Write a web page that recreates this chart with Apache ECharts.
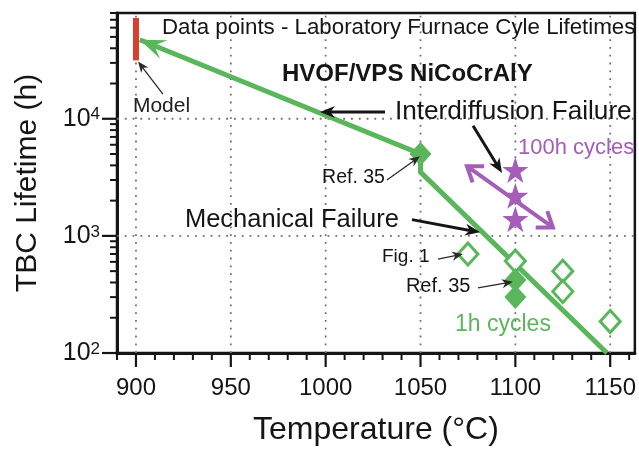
<!DOCTYPE html>
<html>
<head>
<meta charset="utf-8">
<script src="https://cdn.jsdelivr.net/npm/echarts@6.0.0/dist/echarts.min.js"></script>
<style>
  html, body { margin: 0; padding: 0; background: #fff; }
  #chart { width: 639px; height: 451px; }
</style>
</head>
<body>
<div id="chart"></div>
<script>
// axis ranges
const tempMin = 890, tempMax = 1163;
const lifeMin = 100, lifeMax = 80000;

// tick positions
const tempTicks = [900, 950, 1000, 1050, 1100, 1150];
const tempMinorTicks = [890, 910, 920, 930, 940, 960, 970, 980, 990, 1010, 1020, 1030, 1040,
  1060, 1070, 1080, 1090, 1110, 1120, 1130, 1140, 1160];
const lifeTicks = [100, 1000, 10000];
const lifeMinorTicks = [200, 300, 400, 500, 600, 700, 800, 900,
  2000, 3000, 4000, 5000, 6000, 7000, 8000, 9000,
  20000, 30000, 40000, 50000, 60000, 70000, 80000];
const lifeGrid = [1000, 10000];

// model line (green) and model range (red bar)
const modelTemp = [902, 1050, 1050, 1148.3];
const modelLife = [47300, 5000, 3500, 100];
const modelRangeTemp = [900, 900];
const modelRangeLife = [72600, 31500];

// data points
const refTemp = [1050, 1100, 1100];          // Ref. 35, filled diamonds
const refLife = [5000, 420, 300];
const furnaceTemp = [1075, 1100, 1125, 1125, 1150]; // 1h cycles, open diamonds
const furnaceLife = [700, 610, 500, 335, 186];
const cycle100Temp = [1100, 1100, 1100];     // 100h cycles, stars
const cycle100Life = [3650, 2200, 1390];

// annotation arrows: [tempFrom, lifeFrom, tempTo, lifeTo]
const failureArrows = [
  [1031.3, 11450, 997.0, 11450],
  [1077.7, 8730, 1093.0, 3436],
  [1045.5, 1377, 1081.4, 1072]
];
const pointerArrows = [
  [914.2, 16250, 901.1, 30800],
  [1032.3, 2999, 1049.7, 4775],
  [1059.2, 634, 1072.4, 699],
  [1080.3, 360, 1098.7, 405]
];
const cycleArrows = [
  [1074.5, 3937, 1119.8, 1181]
];

// annotation texts
const noteText = ['Data points - Laboratory Furnace Cyle Lifetimes', 'HVOF/VPS NiCoCrAlY', 'Model',
  'Interdiffusion Failure', '100h cycles', 'Ref. 35', 'Mechanical Failure', 'Fig. 1', 'Ref. 35', '1h cycles'];
const noteTemp = [913.7, 977, 898.4, 1036.5, 1101.4, 998.1, 925.8, 1029.7, 1042.3, 1068.2];
const noteLife = [59700, 24000, 12900, 11450, 5590, 3120, 1377, 659, 367, 176];

const GREEN = '#5ab65a', PURPLE = '#a45db8', RED = '#d93f2c', INK = '#151515';
const FONT = 'Liberation Sans, Arial, Helvetica, sans-serif';
const noteStyle = [
  { fontSize: 22.3 }, { fontSize: 24, fontWeight: 'bold' }, { fontSize: 21, fill: '#222' },
  { fontSize: 26.2 }, { fontSize: 22, fill: PURPLE }, { fontSize: 19.5 }, { fontSize: 25.5 },
  { fontSize: 19 }, { fontSize: 20 }, { fontSize: 23, fill: GREEN }
];
const starPath = 'path://M50,0 L61.8,35.4 L99,35.4 L69,57.3 L80.4,92.7 L50,70.8 L19.6,92.7 L31,57.3 L1,35.4 L38.2,35.4 Z';

const zip = (a, b) => a.map((v, i) => [v, b[i]]);

// arrow head polygon, notched
function headPoints(tip, from, len, half, notch) {
  const dx = tip[0] - from[0], dy = tip[1] - from[1];
  const d = Math.hypot(dx, dy) || 1;
  const ux = dx / d, uy = dy / d;
  const bx = tip[0] - ux * len, by = tip[1] - uy * len;
  return [
    [tip[0], tip[1]],
    [bx - uy * half, by + ux * half],
    [tip[0] - ux * len * notch, tip[1] - uy * len * notch],
    [bx + uy * half, by - ux * half]
  ];
}
function openHead(tip, from, len, half) {
  const dx = tip[0] - from[0], dy = tip[1] - from[1];
  const d = Math.hypot(dx, dy) || 1;
  const ux = dx / d, uy = dy / d;
  const bx = tip[0] - ux * len, by = tip[1] - uy * len;
  return [[bx - uy * half, by + ux * half], [tip[0], tip[1]], [bx + uy * half, by - ux * half]];
}

function arrowSeries(rows, color, width, len, half, z) {
  return {
    type: 'custom', z: z, silent: true,
    data: rows,
    renderItem: function (params, api) {
      const p1 = api.coord([api.value(0), api.value(1)]);
      const p2 = api.coord([api.value(2), api.value(3)]);
      const dx = p2[0] - p1[0], dy = p2[1] - p1[1];
      const d = Math.hypot(dx, dy) || 1;
      const e = [p2[0] - dx / d * len * 0.6, p2[1] - dy / d * len * 0.6];
      return {
        type: 'group',
        children: [
          { type: 'line', shape: { x1: p1[0], y1: p1[1], x2: e[0], y2: e[1] }, style: { stroke: color, lineWidth: width } },
          { type: 'polygon', shape: { points: headPoints(p2, p1, len, half, 0.7) }, style: { fill: color } }
        ]
      };
    }
  };
}

function tickSeries(values, onX, len, width) {
  return {
    type: 'custom', z: 5, silent: true,
    data: values.map(v => onX ? [v, lifeMin] : [tempMin, v]),
    renderItem: function (params, api) {
      const p = api.coord([api.value(0), api.value(1)]);
      const q = onX ? [p[0], p[1] + len] : [p[0] - len, p[1]];
      return { type: 'line', shape: { x1: p[0], y1: p[1], x2: q[0], y2: q[1] }, style: { stroke: INK, lineWidth: width } };
    }
  };
}

function gridSeries(values, onX) {
  return {
    type: 'custom', z: 1, silent: true,
    data: values.map(v => onX ? [v, lifeMin] : [tempMin, v]),
    renderItem: function (params, api) {
      const a = onX ? api.coord([api.value(0), lifeMin]) : api.coord([tempMin, api.value(1)]);
      const b = onX ? api.coord([api.value(0), lifeMax]) : api.coord([tempMax, api.value(1)]);
      return { type: 'line', shape: { x1: a[0], y1: a[1], x2: b[0], y2: b[1] },
        style: { stroke: '#707070', lineWidth: 1.8, lineDash: [1.8, 6] } };
    }
  };
}

const chart = echarts.init(document.getElementById('chart'), null, { renderer: 'canvas' });

const option = {
  animation: false,
  backgroundColor: '#fff',
  grid: { left: 117, top: 13, width: 518, height: 344, show: true, borderColor: INK, borderWidth: 2.5 },
  xAxis: {
    type: 'value', min: tempMin, max: tempMax,
    axisLine: { lineStyle: { color: INK, width: 3 } },
    axisTick: { show: false },
    splitLine: { show: false },
    axisLabel: {
      customValues: tempTicks,
      formatter: v => tempTicks.indexOf(v) >= 0 ? String(v) : '',
      color: INK, fontSize: 24, fontFamily: FONT, margin: 23
    },
    name: 'Temperature (°C)', nameLocation: 'middle', nameGap: 61,
    nameTextStyle: { color: INK, fontSize: 32, fontFamily: FONT }
  },
  yAxis: {
    type: 'log', logBase: 10, min: lifeMin, max: lifeMax,
    axisLine: { lineStyle: { color: INK, width: 3 } },
    axisTick: { show: false },
    splitLine: { show: false },
    axisLabel: {
      margin: 17, fontSize: 24, fontFamily: FONT, color: INK,
      formatter: function (v) {
        const e = Math.log10(v);
        if (Math.abs(e - Math.round(e)) > 1e-6) return '';
        return '{b|10}{s|' + Math.round(e) + '}';
      },
      rich: {
        b: { fontSize: 25, color: INK, fontFamily: FONT },
        s: { fontSize: 17, color: INK, fontFamily: FONT, verticalAlign: 'top' }
      }
    },
    name: 'TBC Lifetime (h)', nameLocation: 'middle', nameGap: 74,
    nameTextStyle: { color: INK, fontSize: 30, fontFamily: FONT }
  },
  series: [
    gridSeries(tempTicks, true),
    gridSeries(lifeGrid, false),
    tickSeries(tempTicks, true, 14, 2.2),
    tickSeries(tempMinorTicks, true, 7, 2),
    tickSeries(lifeTicks, false, 15, 2.2),
    tickSeries(lifeMinorTicks, false, 7, 2),
    {
      type: 'line', z: 3, silent: true, symbol: 'none',
      data: zip(modelRangeTemp, modelRangeLife),
      lineStyle: { color: RED, width: 6, cap: 'butt' }
    },
    {
      type: 'line', z: 3, silent: true, symbol: 'none',
      data: zip(modelTemp, modelLife),
      lineStyle: { color: GREEN, width: 5, join: 'miter' }
    },
    {
      // arrow head at the start of the model line
      type: 'custom', z: 3, silent: true,
      data: [[modelTemp[0], modelLife[0], modelTemp[1], modelLife[1]]],
      renderItem: function (params, api) {
        const tip = api.coord([api.value(0), api.value(1)]);
        const from = api.coord([api.value(2), api.value(3)]);
        return { type: 'polygon', shape: { points: headPoints(tip, from, 26, 10, 0.6) }, style: { fill: GREEN } };
      }
    },
    {
      type: 'scatter', z: 4, silent: true,
      data: zip(furnaceTemp, furnaceLife),
      symbol: 'diamond', symbolSize: [20, 22],
      itemStyle: { color: '#fff', borderColor: GREEN, borderWidth: 3, opacity: 1 }
    },
    {
      type: 'scatter', z: 4, silent: true,
      data: zip(refTemp, refLife),
      symbol: 'diamond', symbolSize: [22, 24],
      itemStyle: { color: GREEN, opacity: 1 }
    },
    {
      type: 'scatter', z: 4, silent: true,
      data: zip(cycle100Temp, cycle100Life),
      symbol: starPath, symbolSize: 26,
      itemStyle: { color: PURPLE, opacity: 1 }
    },
    {
      // double headed arrow for the 100h cycle points
      type: 'custom', z: 6, silent: true,
      data: cycleArrows,
      renderItem: function (params, api) {
        const p1 = api.coord([api.value(0), api.value(1)]);
        const p2 = api.coord([api.value(2), api.value(3)]);
        const st = { stroke: PURPLE, lineWidth: 4, fill: null, lineJoin: 'miter' };
        return {
          type: 'group',
          children: [
            { type: 'line', shape: { x1: p1[0], y1: p1[1], x2: p2[0], y2: p2[1] }, style: st },
            { type: 'polyline', shape: { points: openHead(p1, p2, 14, 10) }, style: st },
            { type: 'polyline', shape: { points: openHead(p2, p1, 14, 10) }, style: st }
          ]
        };
      }
    },
    arrowSeries(failureArrows, INK, 3, 15, 6, 7),
    arrowSeries(pointerArrows, '#2a2a2a', 1.3, 11, 4.5, 7),
    {
      type: 'custom', z: 8, silent: true,
      data: noteText.map((t, i) => [noteTemp[i], noteLife[i], i]),
      renderItem: function (params, api) {
        const i = api.value(2);
        const p = api.coord([api.value(0), api.value(1)]);
        const s = noteStyle[i];
        return {
          type: 'text', x: p[0], y: p[1],
          style: {
            text: noteText[i], fontFamily: FONT, fontSize: s.fontSize,
            fontWeight: s.fontWeight || 'normal', fill: s.fill || INK,
            align: 'left', verticalAlign: 'middle'
          }
        };
      }
    }
  ]
};

chart.setOption(option);
window.addEventListener('resize', () => chart.resize());
</script>
</body>
</html>
